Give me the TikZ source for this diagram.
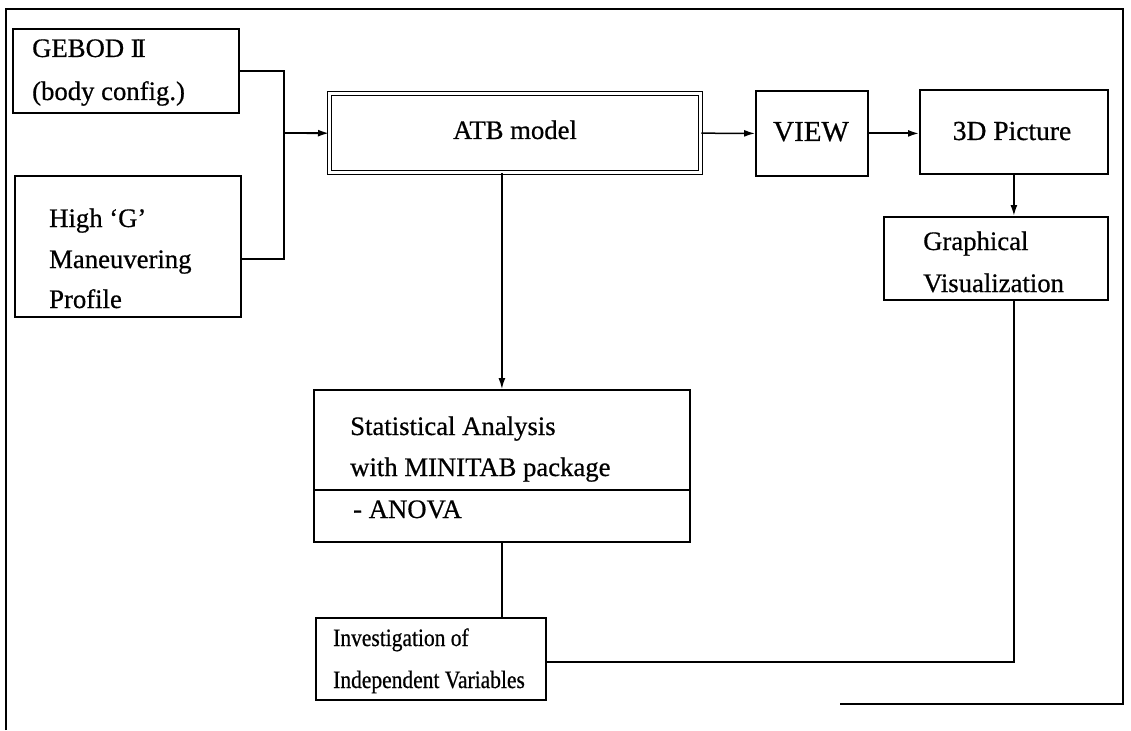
\documentclass[tikz,border=0pt]{standalone}
\usepackage{fontspec}
\setmainfont{Liberation Serif}[FakeBold=0.6]
\newfontfamily\narrowserif{Liberation Serif}[FakeStretch=0.86, FakeBold=0.6]
\usetikzlibrary{arrows.meta,calc}

\tikzset{
  box/.style={draw, line width=1.8pt, anchor=north west, inner sep=0pt},
  label/.style={anchor=base west, inner sep=0pt, font=\fontsize{26.7}{32}\selectfont},
  clabel/.style={anchor=base, inner sep=0pt, font=\fontsize{26.7}{32}\selectfont},
  nlabel/.style={anchor=base west, inner sep=0pt, font=\narrowserif\fontsize{25}{30}\selectfont},
  wire/.style={line width=1.5pt},
  arr/.style={line width=1.8pt, -{Latex[length=11pt,width=7pt]}},
  frame/.style={line width=2.2pt}
}

\begin{document}
\begin{tikzpicture}[x=1pt,y=-1pt]
\useasboundingbox (0,0) rectangle (1131,730);

% outer frame (open at the lower left)
\draw[frame] (6,730) -- (6,9) -- (1123,9) -- (1123,704) -- (840,704);

% input boxes
\node[box, minimum width=226pt, minimum height=84pt] (gebod) at (12,28) {};
\node[label] (gebodA) at (32,57) {GEBOD I\kern-0.11em I};
\node[label] (gebodB) at (32,100) {(body config.)};

\node[box, minimum width=226pt, minimum height=141pt] (high) at (14,175) {};
\node[label] (highA) at (49,227) {High ‘G’};
\node[label] (highB) at (49,268) {Maneuvering};
\node[label] (highC) at (49,308) {Profile};

% simulation model (double border)
\node[draw, double, double distance=2.6pt, line width=1.4pt, anchor=north west,
      minimum width=371pt, minimum height=79pt, inner sep=0pt] (atb) at (329,93) {};
\node[clabel] (atbT) at (515,139) {ATB model};

\node[box, minimum width=112pt, minimum height=85pt] (view) at (755,90) {};
\node[clabel, font=\fontsize{29}{34}\selectfont] (viewT) at (811,141) {VIEW};

\node[box, minimum width=188pt, minimum height=84pt] (pic) at (919,89) {};
\node[clabel, font=\fontsize{27.5}{33}\selectfont] (picT) at (1012,140) {3D Picture};

\node[box, minimum width=224pt, minimum height=83pt] (graph) at (883,216) {};
\node[label] (graphA) at (923,250) {Graphical};
\node[label] (graphB) at (923,292) {Visualization};

% statistics box with a divided lower part
\node[box, minimum width=376pt, minimum height=152pt] (stat) at (313,389) {};
\draw[line width=1.5pt] (stat.west |- 0,490) -- (stat.east |- 0,490);
\node[label] (statA) at (350,435) {Statistical Analysis};
\node[label] (statB) at (350,476) {with MINITAB package};
\node[label] (statC) at (353,518) {- ANOVA};

\node[box, minimum width=230pt, minimum height=82pt] (inv) at (315,617) {};
\node[nlabel] (invA) at (333,646) {Investigation of};
\node[nlabel] (invB) at (333,688) {Independent Variables};

% connectors
\coordinate (join) at (284,133);
\draw[wire] (gebod.east) -| (join);
\draw[wire] ($(high.east)+(0,12.5)$) -| (join);
\draw[arr] (join) -- (atb.west);
\draw[arr, line width=1.5pt] (atb.east) -- (view.west);
\draw[arr] (view.east) -- (view.east -| pic.west);
\draw[arr] (pic.south) -- (pic.south |- graph.north);
\draw[arr, line width=1.5pt] (stat.north |- atb.south) -- (stat.north);
\draw[wire] (stat.south) -- (stat.south |- inv.north);
\draw[wire] (graph.south -| pic.south) |- ($(inv.east)+(0,3)$);
\end{tikzpicture}
\end{document}
